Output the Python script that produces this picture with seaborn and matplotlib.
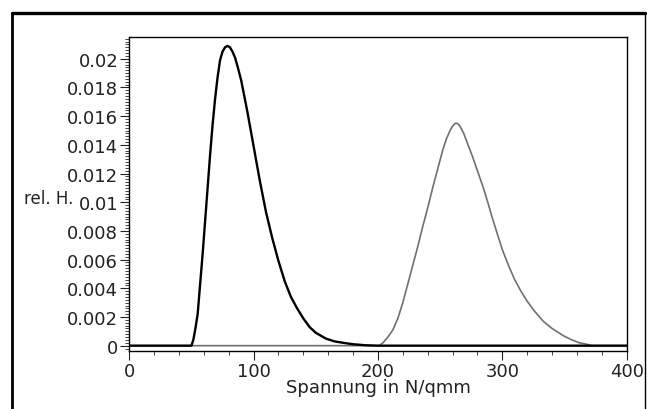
import pandas as pd
import matplotlib.pyplot as plt
import seaborn as sns
from matplotlib.lines import Line2D
from matplotlib.ticker import MultipleLocator

# values
black_x = [0, 50, 51.5, 53, 55, 57, 59, 61, 63, 65, 67, 69, 71, 73, 75, 77, 79, 81, 83,
           85, 87, 90, 95, 100, 105, 110, 115, 120, 125, 130, 135, 140, 145, 150, 158,
           165, 172, 180, 190, 200, 400]
black_y = [0, 0, 0.0004, 0.0011, 0.0022, 0.0043, 0.0064, 0.0087, 0.0110, 0.0133, 0.0154,
           0.0172, 0.0187, 0.0199, 0.0205, 0.0208, 0.0209, 0.0208, 0.0205, 0.0201,
           0.0195, 0.0185, 0.0163, 0.0139, 0.0115, 0.0093, 0.0075, 0.0059, 0.0045,
           0.0034, 0.0026, 0.0019, 0.0013, 0.0009, 0.0005, 0.0003, 0.0002, 0.0001,
           0.00003, 0, 0]

gray_x = [0, 201, 204, 208, 212, 216, 220, 224, 228, 232, 236, 240, 244, 248, 252, 255,
          258, 260, 262, 264, 266, 269, 272, 276, 280, 284, 288, 292, 296, 300, 305,
          310, 315, 320, 326, 333, 340, 349, 356, 362, 368, 372, 400]
gray_y = [0, 0, 0.0002, 0.0006, 0.0011, 0.0019, 0.0030, 0.0043, 0.0056, 0.0069, 0.0083,
          0.0096, 0.0110, 0.0123, 0.0136, 0.0144, 0.0150, 0.0153, 0.0155, 0.0155,
          0.0153, 0.0148, 0.0141, 0.0132, 0.0122, 0.0112, 0.0101, 0.0089, 0.0078,
          0.0067, 0.0056, 0.0046, 0.0038, 0.0031, 0.0024, 0.0017, 0.0012, 0.0007,
          0.0004, 0.0002, 0.0001, 0, 0]

y_ticks = [0, 0.002, 0.004, 0.006, 0.008, 0.01, 0.012, 0.014, 0.016, 0.018, 0.02]
y_tick_labels = ["0", "0.002", "0.004", "0.006", "0.008", "0.01", "0.012", "0.014",
                 "0.016", "0.018", "0.02"]
x_ticks = [0, 100, 200, 300, 400]

sns.set_style("white")
plt.rcParams["font.family"] = ["DejaVu Sans"]

fig = plt.figure(figsize=(6.48, 4.10), dpi=100)
ax = fig.add_axes([0.1995, 0.1422, 0.7675, 0.7644])

df_gray = pd.DataFrame({"x": gray_x, "y": gray_y})
df_black = pd.DataFrame({"x": black_x, "y": black_y})
sns.lineplot(data=df_gray, x="x", y="y", color="#707070", linewidth=1.2, ax=ax)
sns.lineplot(data=df_black, x="x", y="y", color="black", linewidth=1.7, ax=ax)

ax.set_xlim(0, 400)
ax.set_ylim(-0.00035, 0.0215)
ax.set_xticks(x_ticks)
ax.set_xticklabels([str(v) for v in x_ticks])
ax.set_yticks(y_ticks)
ax.set_yticklabels(y_tick_labels)
ax.xaxis.set_minor_locator(MultipleLocator(20))
ax.yaxis.set_minor_locator(MultipleLocator(0.0002))
ax.tick_params(which="major", direction="out", length=6.5, width=0.8,
               labelsize=13, pad=1.5, colors="#222222")
ax.tick_params(which="minor", direction="out", length=3, width=0.6, colors="#222222")
ax.tick_params(axis="x", which="both", bottom=True)
ax.tick_params(axis="y", which="both", left=True)

for s in ax.spines.values():
    s.set_color("black")
    s.set_linewidth(1.0)

ax.set_xlabel("Spannung in N/qmm", fontsize=13, color="#222222", labelpad=-1)
ax.set_ylabel("rel. H.", fontsize=12, color="#222222", rotation=0, ha="right", va="center")
ax.yaxis.set_label_coords(-0.112, 0.488)

# outer frame of the scanned figure
fig.add_artist(Line2D([0.0185, 0.996], [0.967, 0.967], transform=fig.transFigure,
                      color="black", linewidth=2.4))
fig.add_artist(Line2D([0.0185, 0.0185], [0.0, 0.967], transform=fig.transFigure,
                      color="black", linewidth=2.0))
fig.add_artist(Line2D([0.995, 0.995], [0.0, 0.967], transform=fig.transFigure,
                      color="black", linewidth=1.0))

fig.savefig("out.png", dpi=100)
